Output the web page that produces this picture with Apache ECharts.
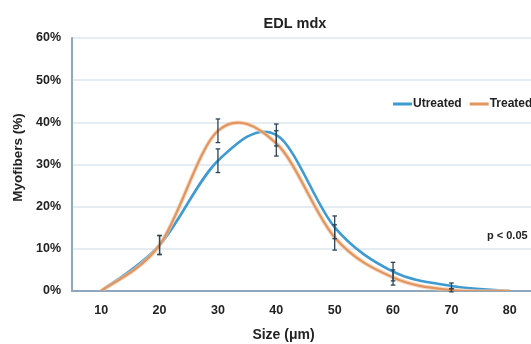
<!DOCTYPE html>
<html><head><meta charset="utf-8">
<script src="https://cdn.jsdelivr.net/npm/echarts@6/dist/echarts.min.js"></script>
<style>html,body{margin:0;padding:0;background:#fff}#c{width:531px;height:344px}</style>
</head><body><div id="c"></div>
<script>
var categories = ['10','20','30','40','50','60','70','80'];
var untreated = [0, 10.9, 30.9, 37.0, 15.1, 4.6, 1.2, 0];
var untreatedErr = [0, 2.3, 2.8, 2.6, 2.7, 2.2, 0.7, 0];
var treated = [0, 10.9, 38.0, 35.0, 12.7, 3.2, 0.2, 0];
var treatedErr = [0, 2.2, 2.8, 3.0, 3.0, 1.8, 0.4, 0];
var yTicks = [0, 10, 20, 30, 40, 50, 60];

var BLUE = '#3d9ad3', ORANGE = '#e2955c';
var FONT = 'Liberation Sans';

function splineSeries(name, vals, color, halo, z){
  return {
    type:'custom', name:name, z:z, silent:true, clip:true,
    itemStyle:{color:color},
    data: vals.map(function(v,i){return [i, v];}),
    renderItem:function(params, api){
      var i = params.dataIndex, n = vals.length;
      if (i >= n-1) return null;
      var p = function(k){ k = Math.max(0, Math.min(n-1, k)); return api.coord([k, vals[k]]); };
      var p0 = p(i-1), p1 = p(i), p2 = p(i+1), p3 = p(i+2);
      var c1 = [p1[0] + (p2[0]-p0[0])/6, p1[1] + (p2[1]-p0[1])/6];
      var c2 = [p2[0] - (p3[0]-p1[0])/6, p2[1] - (p3[1]-p1[1])/6];
      var d = 'M'+p1[0]+' '+p1[1]+' C'+c1[0]+' '+c1[1]+' '+c2[0]+' '+c2[1]+' '+p2[0]+' '+p2[1];
      var kids = [];
      if (halo) kids.push({type:'path', shape:{pathData:d}, style:{stroke:halo, lineWidth:4.2, fill:null}});
      kids.push({type:'path', shape:{pathData:d}, style:{stroke:color, lineWidth:halo?2.2:2.6, fill:null}});
      return {type:'group', children:kids};
    }
  };
}
function errSeries(name, vals, errs, z){
  return {
    type:'custom', name:name, z:z, silent:true,
    data: vals.map(function(v,i){return [i, v, errs[i]];}),
    renderItem:function(params, api){
      var i = api.value(0), v = api.value(1), e = api.value(2);
      if (!e) return null;
      var hi = api.coord([i, v+e]), lo = api.coord([i, v-e]);
      var w = 2.3;
      var st = {stroke:'#2c4457', lineWidth:1.3};
      return {type:'group', children:[
        {type:'line', shape:{x1:hi[0],y1:hi[1],x2:lo[0],y2:lo[1]}, style:st},
        {type:'line', shape:{x1:hi[0]-w,y1:hi[1],x2:hi[0]+w,y2:hi[1]}, style:st},
        {type:'line', shape:{x1:lo[0]-w,y1:lo[1],x2:lo[0]+w,y2:lo[1]}, style:st}
      ]};
    }
  };
}
var chart = echarts.init(document.getElementById('c'));
chart.setOption({
  animation:false,
  title:{text:'EDL mdx', left:290, top:11, textAlign:'center',
    textStyle:{fontFamily:FONT, fontSize:14.5, fontWeight:'bold', color:'#222'}},
  legend:{left:393, top:98, width:300, orient:'horizontal', padding:0, itemWidth:19, itemHeight:3, itemGap:8,
    data:[{name:'Utreated', icon:'rect', itemStyle:{color:BLUE}},
          {name:'Treated', icon:'rect', itemStyle:{color:ORANGE}}],
    textStyle:{fontFamily:FONT, fontSize:12, fontWeight:'bold', color:'#222', padding:[0,0,0,-4]}},
  grid:{left:72, right:-8, top:38, bottom:53, outerBoundsMode:'none', containLabel:false},
  xAxis:{type:'category', data:categories, boundaryGap:true,
    name:'Size (μm)', nameLocation:'middle', nameGap:37,
    nameTextStyle:{fontFamily:FONT, fontSize:14, fontWeight:'bold', color:'#222', padding:[0,44,0,0]},
    axisLine:{lineStyle:{color:'#8fa8bb', width:2}}, axisTick:{show:false},
    axisLabel:{margin:13, fontFamily:FONT, fontSize:12.5, fontWeight:'bold', color:'#222'}},
  yAxis:{type:'value', min:0, max:60, interval:10,
    name:'Myofibers (%)', nameLocation:'middle', nameGap:47, nameRotate:90,
    nameTextStyle:{fontFamily:FONT, fontSize:13.5, fontWeight:'bold', color:'#222', padding:[0,0,0,14]},
    axisLine:{show:true, lineStyle:{color:'#8fa8bb', width:2}}, axisTick:{show:false},
    splitLine:{lineStyle:{color:'#dde6ee', width:1.5}},
    axisLabel:{margin:11, fontFamily:FONT, fontSize:12.5, fontWeight:'bold', color:'#222',
      formatter:function(v){return yTicks.indexOf(v)>=0 ? v+'%' : '';}}},
  graphic:[{type:'text', left:487, top:230,
    style:{text:'p < 0.05', fontFamily:FONT, fontSize:11, fontWeight:'bold', fill:'#222'}}],
  series:[
    splineSeries('Utreated', untreated, BLUE, null, 3),
    splineSeries('Treated', treated, ORANGE, 'rgba(244,200,170,0.7)', 4),
    errSeries('errU', untreated, untreatedErr, 5),
    errSeries('errT', treated, treatedErr, 5)
  ]
});
</script></body></html>
